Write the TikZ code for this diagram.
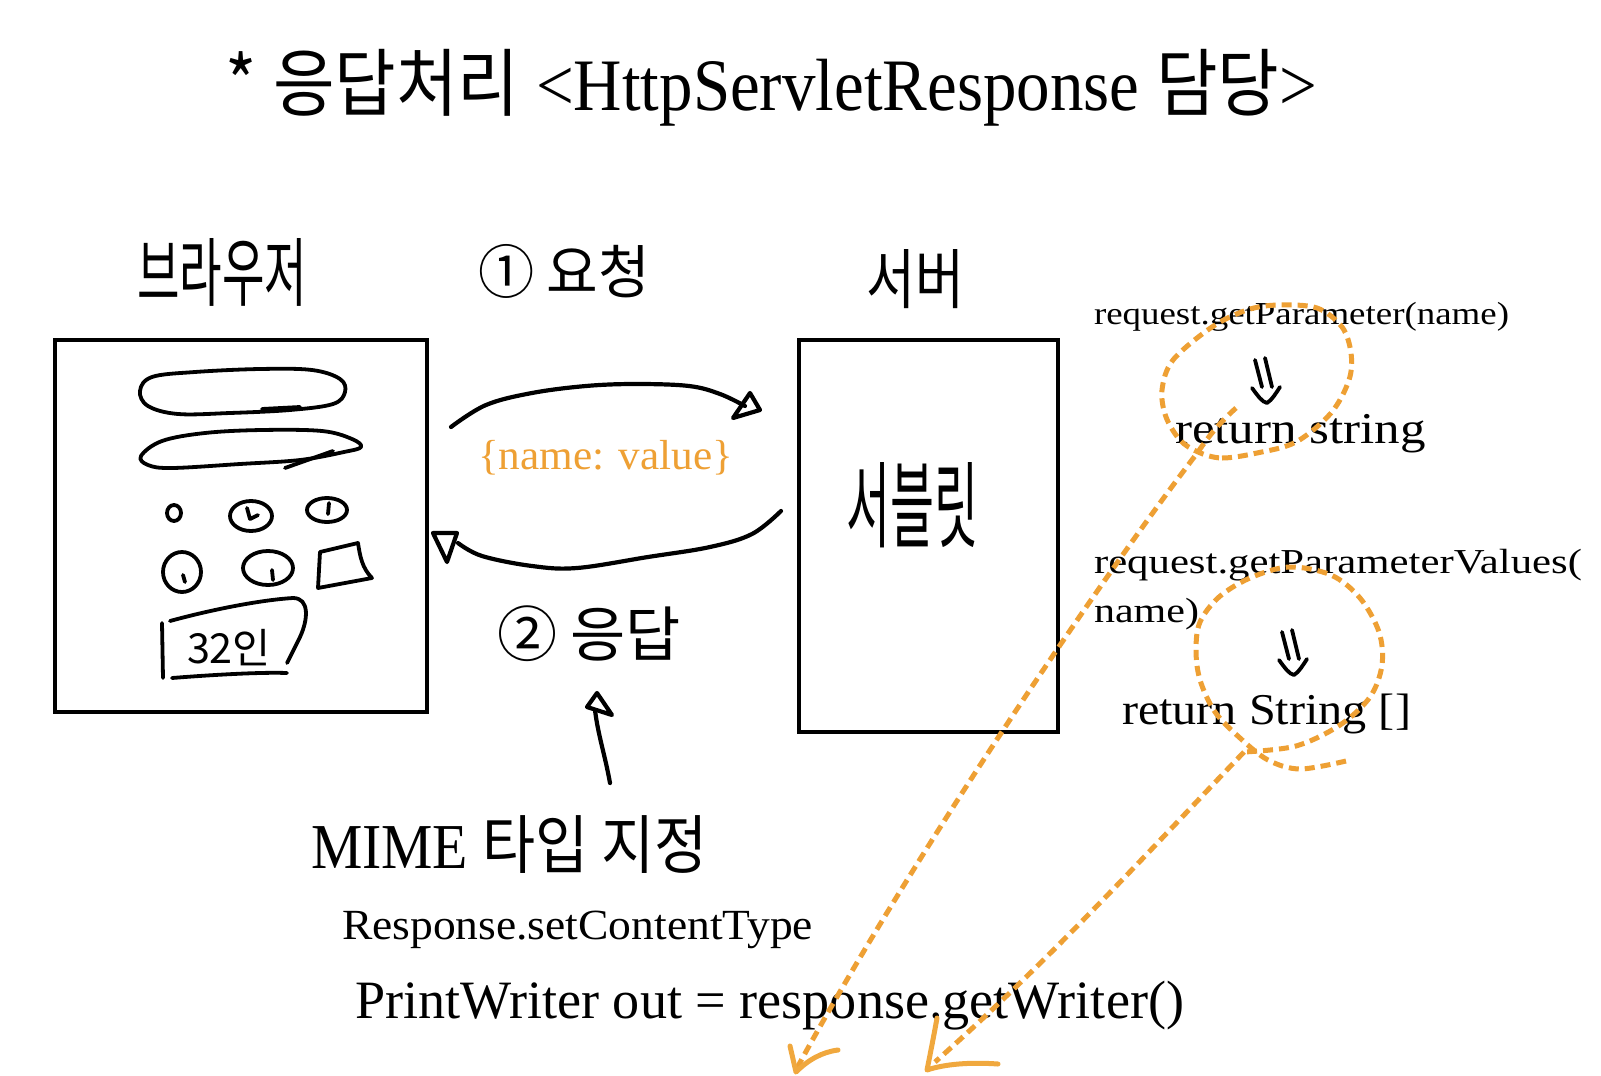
\documentclass[tikz,border=0pt]{standalone}
\usepackage{fontspec}
\usepackage{graphicx}
\setmainfont{Liberation Serif}
\newfontfamily\kr{Noto Sans CJK KR}
\definecolor{dorange}{RGB}{238,160,52}
\definecolor{sorange}{RGB}{240,168,62}
\tikzset{
  txt/.style={anchor=base west, inner sep=0pt, outer sep=0pt},
  hand/.style={anchor=center, inner sep=0pt, outer sep=0pt},
  boxline/.style={draw=black, line width=3.6pt},
  pen/.style={draw=black, line width=4.2pt, line cap=round, line join=round},
  thinpen/.style={draw=black, line width=3.8pt, line cap=round, line join=round},
  odash/.style={draw=dorange, line width=5pt, dash pattern=on 10pt off 6pt},
  open/.style={draw=sorange, line width=5pt, line cap=round, line join=round}
}
\begin{document}
\begin{tikzpicture}[x=1pt,y=-1pt]
\useasboundingbox[fill=white] (0,0) rectangle (1601,1076);

% title
\node[txt] (title) at (225,110) {\resizebox{1092pt}{\height}{\fontsize{74}{80}\selectfont{\kr *} {\kr 응답처리} <HttpServletResponse {\kr 담당}>}};

% handwritten labels
\node[hand] (browserlbl) at (222,272) {\resizebox{170pt}{62pt}{\fontsize{50}{60}\selectfont\kr 브라우저}};
\node[hand] (serverlbl) at (915,279) {\resizebox{98pt}{54pt}{\fontsize{50}{60}\selectfont\kr 서버}};
\node[hand] (servletlbl) at (912,505) {\resizebox{132pt}{78pt}{\fontsize{50}{60}\selectfont\kr 서블릿}};

% step labels
\node[txt] (req) at (478,293) {\resizebox{172pt}{\height}{\fontsize{58}{64}\selectfont\kr ① 요청}};
\node[txt] (resp) at (497,656) {\resizebox{184pt}{\height}{\fontsize{60}{66}\selectfont\kr ② 응답}};

% boxes
\node[boxline, minimum width=372pt, minimum height=372pt, inner sep=0, anchor=north west] (browser) at (53,338) {};
\node[boxline, minimum width=259pt, minimum height=392pt, inner sep=0, anchor=north west] (server) at (797,338) {};

% browser contents
\draw[thinpen] plot[smooth cycle, tension=0.6] coordinates {(140,391) (152,377) (195,372) (260,369) (312,370) (340,379) (345,392) (333,404) (290,410) (230,413) (178,414) (148,406)};
\draw[thinpen] (262,409) -- (300,407);
\draw[thinpen] plot[smooth cycle, tension=0.6] coordinates {(141,456) (162,441) (205,433) (262,430) (322,431) (352,439) (361,447) (344,452) (300,460) (240,464) (172,468) (148,465)};
\draw[thinpen] (285,468) -- (333,451);
\draw[thinpen] (174,513) ellipse [x radius=7, y radius=8];
\draw[thinpen] (251,516) ellipse [x radius=21, y radius=15];
\draw[thinpen] (247,508) -- (250,519) -- (258,515);
\draw[thinpen] (327,510) ellipse [x radius=20, y radius=12];
\draw[thinpen] (329,503) -- (328,514);
\draw[thinpen] (182,572) ellipse [x radius=19, y radius=20];
\draw[thinpen] (183,575) -- (185,582);
\draw[thinpen] (268,568) ellipse [x radius=25, y radius=17];
\draw[thinpen] (272,570) -- (273,580);
\draw[thinpen] (320,552) -- (358,543) .. controls (360,556) and (362,568) .. (372,578) -- (318,588) -- cycle;
\draw[thinpen] (162,623) -- (163,678);
\draw[thinpen] (170,621) .. controls (210,610) and (260,600) .. (293,598) .. controls (310,598) and (308,620) .. (300,637) -- (287,663);
\draw[thinpen] (172,678) .. controls (210,675) and (260,672) .. (287,673);
\node[hand] (price) at (229,648) {\resizebox{84pt}{!}{\fontsize{34}{40}\selectfont\kr 32인}};

% request arrow
\coordinate (reqS) at (451,427);
\coordinate (reqE) at (745,406);
\draw[pen] plot[smooth, tension=0.6] coordinates {(reqS) (486,405) (532,393) (586,386) (636,384) (689,386) (720,394) (reqE)};
\draw[pen] (750,393) -- (760,410) -- (733,418) -- cycle;

% {name: value}
\node[txt] (nv) at (478,469) {\resizebox{255pt}{\height}{\fontsize{42}{48}\selectfont\color{dorange}\{name: value\}}};

% response arrow
\coordinate (resS) at (781,511);
\coordinate (resE) at (458,543);
\draw[pen] plot[smooth, tension=0.6] coordinates {(resS) (752,534) (710,547) (648,557) (577,568) (532,566) (482,556) (resE)};
\draw[pen] (433,533) -- (457,533) -- (447,562) -- cycle;

% MIME arrow
\coordinate (mimeS) at (610,783);
\coordinate (mimeE) at (595,710);
\draw[pen] (mimeS) .. controls (605,755) and (598,735) .. (mimeE);
\draw[pen] (597,693) -- (587,707) -- (612,715) -- cycle;

% bottom texts
\node[txt] (mime) at (311,868) {\resizebox{397pt}{\height}{\fontsize{64}{70}\selectfont MIME {\kr 타입 지정}}};
\node[txt] (sct) at (342,939) {\resizebox{471pt}{\height}{\fontsize{43}{48}\selectfont Response.setContentType}};
\node[txt] (pw) at (355,1018) {\resizebox{829pt}{\height}{\fontsize{54}{60}\selectfont PrintWriter out = response.getWriter()}};

% right texts
\node[txt] (gp) at (1094,324) {\resizebox{415pt}{\height}{\fontsize{32}{36}\selectfont request.getParameter(name)}};
\node[txt] (rs) at (1175,443) {\resizebox{251pt}{\height}{\fontsize{44}{50}\selectfont return string}};
\node[txt] (gpv) at (1094,573) {\resizebox{488pt}{\height}{\fontsize{35}{40}\selectfont request.getParameterValues(}};
\node[txt] (gpv2) at (1094,622) {\resizebox{105pt}{\height}{\fontsize{35}{40}\selectfont name)}};
\node[txt] (rsa) at (1122,724) {\resizebox{289pt}{\height}{\fontsize{44}{50}\selectfont return String []}};

% double down arrows
\draw[thinpen] (1255,360) -- (1262,387);
\draw[thinpen] (1265,358) -- (1272,387);
\draw[thinpen] (1252,388) .. controls (1258,396) and (1262,402) .. (1267,403) .. controls (1272,400) and (1276,393) .. (1280,387);
\begin{scope}[shift={(27,272)}]
\draw[thinpen] (1255,360) -- (1262,387);
\draw[thinpen] (1265,358) -- (1272,387);
\draw[thinpen] (1252,388) .. controls (1258,396) and (1262,402) .. (1267,403) .. controls (1272,400) and (1276,393) .. (1280,387);
\end{scope}

% orange lasso 1
\draw[odash] plot[smooth cycle, tension=0.55] coordinates {(1198,452) (1222,458) (1257,453) (1296,442) (1331,413) (1349,380) (1351,353) (1342,327) (1317,308) (1278,305) (1247,310) (1212,327) (1173,360) (1162,390) (1166,417) (1180,440)};
\coordinate (l1s) at (1236,408);
\coordinate (a1) at (797,1068);
\draw[odash] (l1s) .. controls (1218,424) and (1206,440) .. (1198,452) .. controls (1100,580) and (910,860) .. (a1);
\draw[open] (790,1046) -- (796,1072) .. controls (808,1060) and (822,1052) .. (838,1050);

% orange lasso 2
\draw[odash] plot[smooth, tension=0.55] coordinates {(1346,761) (1300,769) (1268,760) (1240,738) (1215,712) (1200,680) (1196,650) (1200,622) (1219,597) (1250,578) (1289,567) (1331,575) (1360,598) (1379,632) (1382,665) (1370,697) (1340,725) (1296,746) (1244,752)};
\coordinate (l2s) at (1244,752);
\coordinate (a2) at (935,1062);
\draw[odash] (l2s) .. controls (1150,850) and (1050,960) .. (a2);
\draw[open] (937,1018) .. controls (934,1035) and (930,1055) .. (927,1070) .. controls (945,1064) and (970,1062) .. (998,1064);
\end{tikzpicture}
\end{document}
